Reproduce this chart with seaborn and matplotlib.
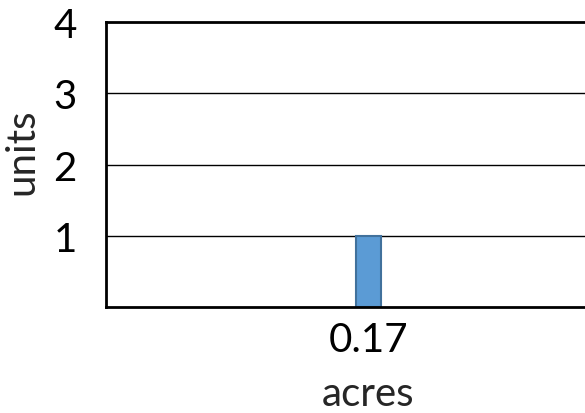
import matplotlib
matplotlib.use("Agg")
import matplotlib.pyplot as plt
import seaborn as sns
import pandas as pd

categories = ["0.17"]
values = [1]
y_ticks = [1, 2, 3, 4]

sns.set_style("white")
plt.rcParams["font.family"] = ["Lato", "DejaVu Sans"]

df = pd.DataFrame({"acres": categories, "units": values})

fig = plt.figure(figsize=(5.85, 4.14), dpi=100)
ax = fig.add_axes([0.181, 0.256, 0.898, 0.688])

sns.barplot(data=df, x="acres", y="units", ax=ax, width=0.048,
            color="#5B9BD5", edgecolor="#41719C", linewidth=1.5, saturation=1)

ax.set_ylim(0, 4)
ax.set_xlim(-0.5, 0.5)
ax.set_yticks(y_ticks)
ax.set_yticklabels([str(t) for t in y_ticks])
for t in y_ticks[:-1]:
    ax.axhline(t, color="black", linewidth=1.0, zorder=0)

for side in ["left", "bottom", "top"]:
    ax.spines[side].set_visible(True)
    ax.spines[side].set_color("black")
    ax.spines[side].set_linewidth(2)
ax.spines["right"].set_visible(False)

ax.tick_params(axis="both", length=0, labelsize=29, colors="black")
ax.tick_params(axis="y", pad=21)
ax.tick_params(axis="x", pad=10)
ax.set_xlabel("acres", fontsize=29, labelpad=12)
ax.set_ylabel("units", fontsize=29)
ax.yaxis.set_label_coords(-0.125, 0.55)

fig.savefig("out.png", dpi=100)
